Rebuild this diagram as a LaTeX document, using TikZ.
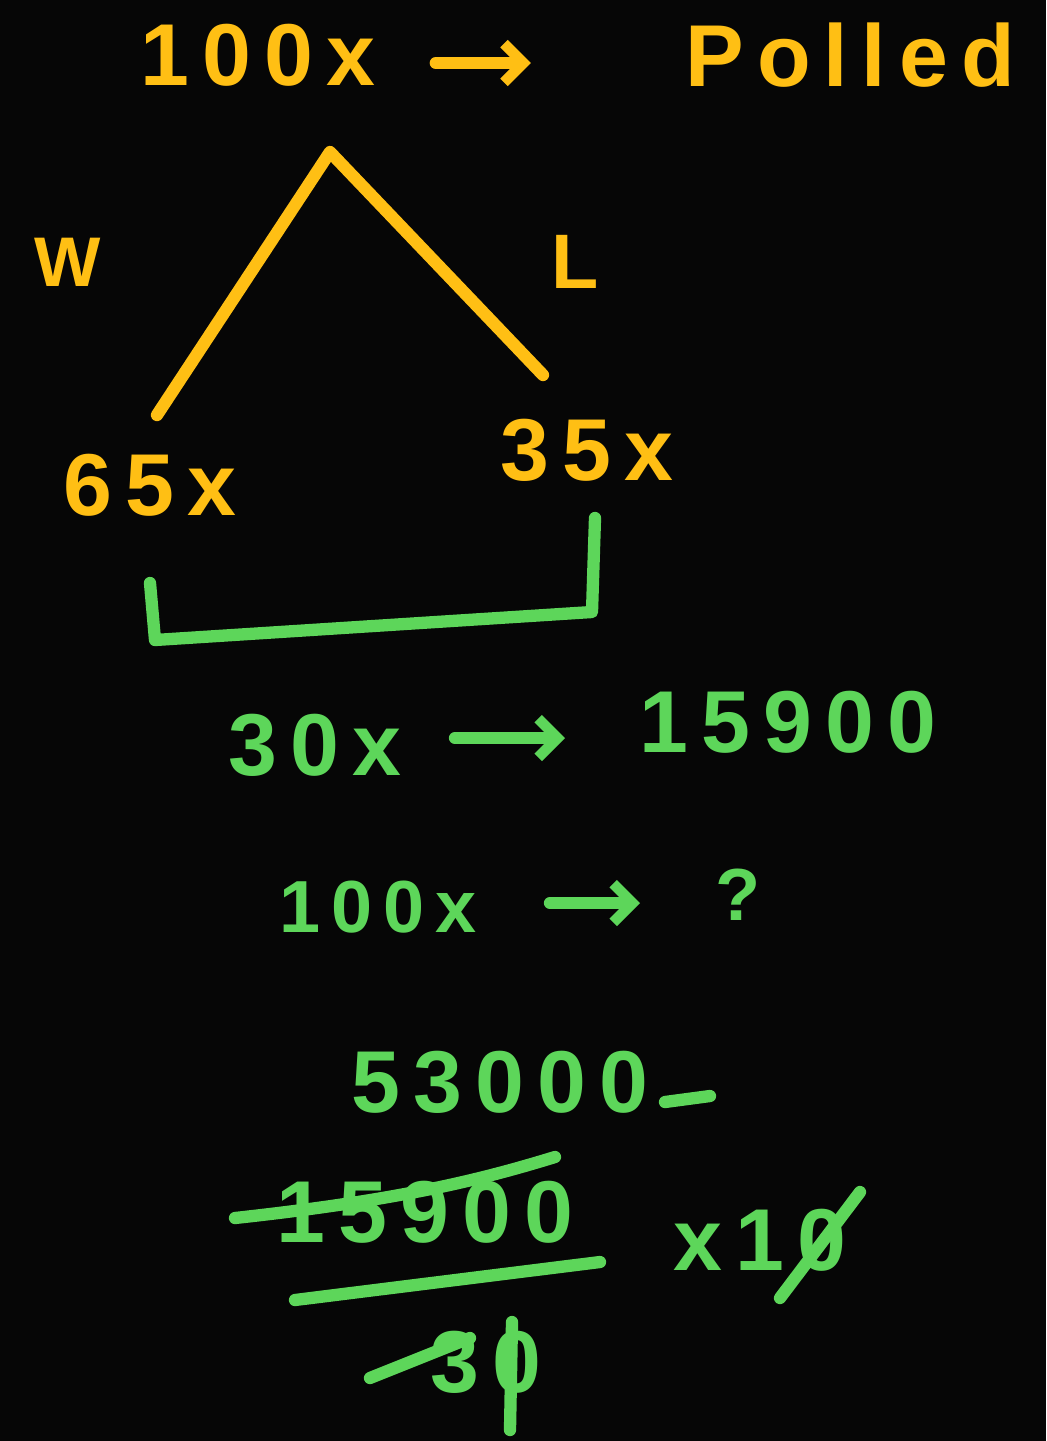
\documentclass[tikz,border=0pt]{standalone}
\usepackage{fontspec}
\usepackage{xcolor}
\usepackage{tikz}
\usetikzlibrary{arrows.meta}
\newfontfamily\handFont[LetterSpace=15]{Liberation Sans}
\definecolor{boardColor}{HTML}{060606}
\definecolor{yellowInk}{HTML}{FFBF14}
\definecolor{greenInk}{HTML}{5DD65A}

\tikzset{
  ink/.style={line width=7pt, line cap=round, line join=round},
  yellowText/.style={text=yellowInk, inner sep=0pt, font=\handFont\bfseries\fontsize{50}{60}\selectfont},
  greenText/.style={text=greenInk, inner sep=0pt, font=\handFont\bfseries\fontsize{50}{60}\selectfont},
  smallGreen/.style={greenText, font=\handFont\bfseries\fontsize{42}{50}\selectfont},
  inkArrow/.style={ink, -{Straight Barb[length=11pt,width=22pt,line width=6pt]}}
}

\begin{document}
\begin{tikzpicture}[x=0.02cm, y=-0.02cm]
	\fill[boardColor] (0,0) rectangle (1046,1441);
	\useasboundingbox (0,0) rectangle (1046,1441);
	% top line
	\node[yellowText] (topLeft) at (258,55) {100x};
	\node[yellowText] (polled) at (850,55) {Polled};
	\draw[inkArrow, yellowInk] (topLeft.east) ++(60,8) coordinate (a1) -- ++(95,0) coordinate (a2);
	% tree
	\coordinate (apex) at (330,152);
	\coordinate (leftEnd) at (157,415);
	\coordinate (rightEnd) at (543,375);
	\draw[ink, yellowInk] (leftEnd) -- (apex) -- (rightEnd);
	\node[yellowText, font=\handFont\bfseries\fontsize{40}{48}\selectfont] (win) at (68,262) {W};
	\node[yellowText, font=\handFont\bfseries\fontsize{44}{52}\selectfont] (lose) at (575,262) {L};
	\node[yellowText] (winShare) at (150,485) {65x};
	\node[yellowText] (loseShare) at (587,450) {35x};
	% bracket
	\coordinate (b1) at (150,583);
	\coordinate (b2) at (155,640);
	\coordinate (b3) at (592,612);
	\coordinate (b4) at (595,518);
	\draw[ink, greenInk] (b1) -- (b2) -- (b3) -- (b4);
	% difference
	\node[greenText] (diff) at (315,745) {30x};
	\node[greenText] (diffVal) at (788,722) {15900};
	\draw[inkArrow, greenInk] (455,738) -- (565,738);
	\node[smallGreen] (total) at (378,907) {100x};
	\node[smallGreen] (ask) at (738,895) {?};
	\draw[inkArrow, greenInk] (550,903) -- (640,903);
	% working
	\node[greenText] (result) at (500,1082) {53000};
	\draw[ink, greenInk] (665,1102) -- (710,1096);
	\node[greenText] (numer) at (425,1212) {15900};
	\draw[ink, greenInk] (235,1218) .. controls (400,1200) and (480,1180) .. (555,1157);
	\draw[ink, greenInk] (295,1300) -- (600,1262);
	\node[greenText] (denom) at (486,1362) {30};
	\draw[ink, greenInk] (370,1378) -- (470,1338);
	\draw[ink, greenInk] (512,1322) -- (510,1430);
	\node[greenText] (times) at (760,1240) {x10};
	\draw[ink, greenInk] (780,1298) -- (860,1192);
\end{tikzpicture}
\end{document}
